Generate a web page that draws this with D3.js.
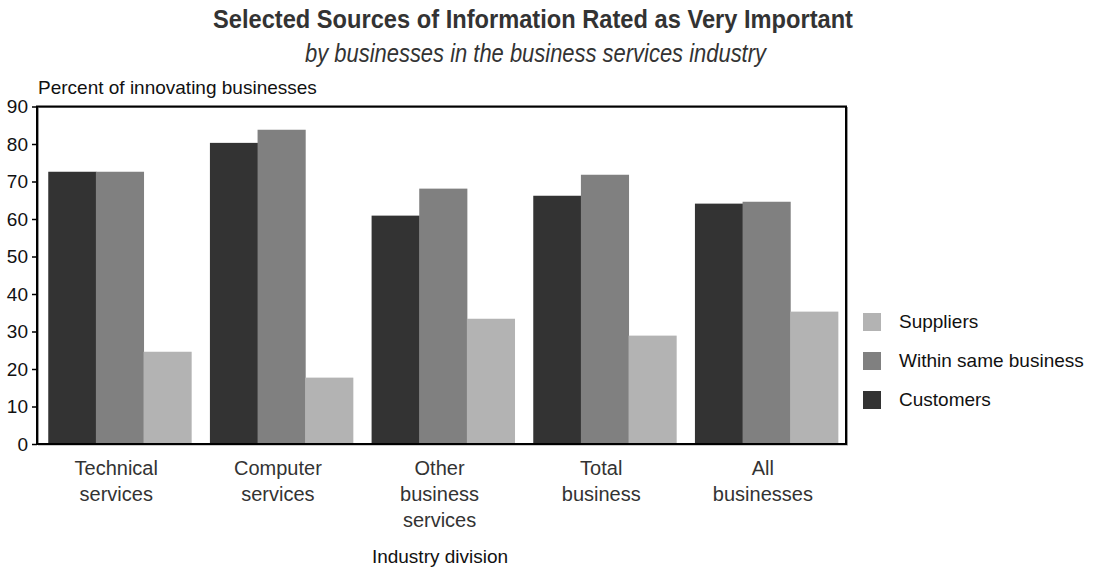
<!DOCTYPE html>
<html><head><meta charset="utf-8">
<script src="https://cdn.jsdelivr.net/npm/d3@7"></script>
<style>body{margin:0;background:#fff}svg{display:block}</style>
</head><body>
<svg id="c" width="1096" height="574"></svg>
<script>
const categories = [["Technical","services"],["Computer","services"],["Other","business","services"],["Total","business"],["All","businesses"]];
const seriesNames = ["Customers","Within same business","Suppliers"];
const customers = [72.6, 80.3, 60.9, 66.2, 64.1];
const withinSame = [72.6, 83.8, 68.1, 71.8, 64.6];
const suppliers = [24.6, 17.7, 33.4, 28.9, 35.3];
const yTicks = [0,10,20,30,40,50,60,70,80,90];
const colors = ["#333333","#808080","#b3b3b3"];

(function(){
const series = [customers, withinSame, suppliers];
const svg = d3.select("#c");
const pL = 37, pR = 846, pT = 106.5, pB = 444;
const x0 = d3.scaleBand().domain(d3.range(categories.length)).range([pL, pR]).paddingInner(0.116).paddingOuter(0.06).align(0.58);
const x1 = d3.scaleBand().domain(d3.range(3)).range([0, x0.bandwidth()]);
const y = d3.scaleLinear().domain([0,90]).range([pB, pT]);
const font = "'Liberation Sans', Arial, sans-serif";

const g = svg.append("g");
categories.forEach((c,i)=>{
  series.forEach((s,j)=>{
    g.append("rect")
      .attr("x", x0(i)+x1(j)).attr("width", x1.bandwidth()+0.5)
      .attr("y", y(s[i])).attr("height", y(0)-y(s[i]))
      .attr("fill", colors[j]);
  });
});

svg.append("rect").attr("x", pL+1.5).attr("y", pT+1).attr("width", pR-pL).attr("height", pB-pT)
  .attr("fill","none").attr("stroke","#999").attr("stroke-width",1);
svg.append("rect").attr("x", pL).attr("y", pT).attr("width", pR-pL).attr("height", pB-pT)
  .attr("fill","none").attr("stroke","#000").attr("stroke-width",2);

const yAxis = d3.axisLeft(y).tickValues(yTicks).tickSize(5).tickPadding(4);
const ya = svg.append("g").attr("transform",`translate(${pL},0)`).call(yAxis);
ya.select(".domain").remove();
ya.selectAll(".tick line").attr("stroke","#000").attr("stroke-width",1.5);
ya.selectAll(".tick text").attr("font-family",font).attr("font-size",19).attr("fill","#111");

categories.forEach((c,i)=>{
  const t = svg.append("text").attr("text-anchor","middle").attr("font-family",font).attr("font-size",20).attr("fill","#333")
    .attr("transform",`translate(${x0(i)+x0.bandwidth()/2-3.5},475)`);
  c.forEach((line,k)=>t.append("tspan").attr("x",0).attr("y",k*26).text(line));
});

svg.append("text").attr("x",533).attr("y",28).attr("text-anchor","middle").attr("font-family",font)
  .attr("font-weight","bold").attr("font-size",26).attr("fill","#333")
  .attr("textLength",640).attr("lengthAdjust","spacingAndGlyphs")
  .text("Selected Sources of Information Rated as Very Important");
svg.append("text").attr("x",535.5).attr("y",62).attr("text-anchor","middle").attr("font-family",font)
  .attr("font-style","italic").attr("font-size",25).attr("fill","#333")
  .attr("textLength",461).attr("lengthAdjust","spacingAndGlyphs")
  .text("by businesses in the business services industry");
svg.append("text").attr("x",38).attr("y",94).attr("font-family",font).attr("font-size",19).attr("fill","#111").text("Percent of innovating businesses");
svg.append("text").attr("x",440).attr("y",563).attr("text-anchor","middle").attr("font-family",font).attr("font-size",19).attr("fill","#111").text("Industry division");

const legendOrder = [2,1,0];
legendOrder.forEach((j,k)=>{
  const ly = 313 + k*39;
  svg.append("rect").attr("x",863).attr("y",ly).attr("width",18).attr("height",18).attr("fill",colors[j]);
  svg.append("text").attr("x",899).attr("y",ly+15).attr("font-family",font).attr("font-size",19).attr("fill","#111").text(seriesNames[j]);
});
})();
</script>
</body></html>
